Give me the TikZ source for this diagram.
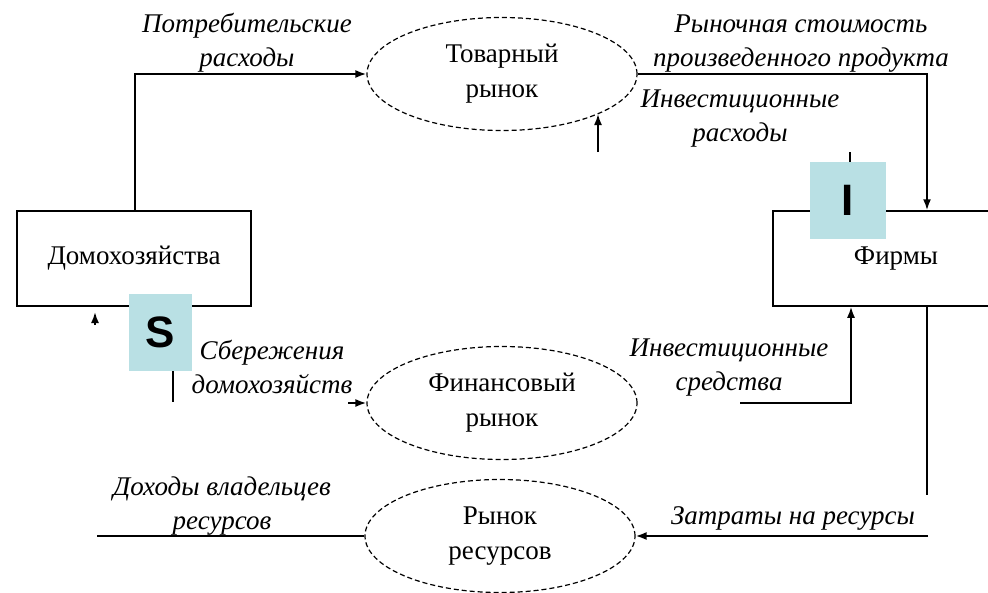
\documentclass[tikz,border=0pt]{standalone}
\usepackage{fontspec}
\setmainfont{Liberation Serif}
\newfontfamily\sansb{Liberation Sans}
\usetikzlibrary{arrows.meta,shapes.geometric}
\definecolor{boxblue}{RGB}{185,224,228}
\begin{document}
\begin{tikzpicture}[x=1pt,y=-1pt,
  lbl/.style={font=\fontsize{27}{34}\selectfont\itshape, align=center, inner sep=0pt},
  mkt/.style={ellipse, draw, dash pattern=on 5pt off 3pt, line width=1.2pt, minimum width=270pt, minimum height=113pt, align=center, font=\fontsize{27}{35}\selectfont, inner sep=0pt},
  agent/.style={rectangle, draw, line width=1.5pt, minimum height=95pt, font=\fontsize{27}{30}\selectfont, inner sep=0pt},
  tag/.style={fill=boxblue, inner sep=0pt, font=\sansb\bfseries\fontsize{44}{44}\selectfont},
  conn/.style={line width=1.8pt},
  arr/.style={conn, -{Latex[length=11pt,width=8pt]}},
]
\useasboundingbox (0,0) rectangle (988,592);
% agents
\node[agent, minimum width=234pt] (hh) at (134,258.5) {Домохозяйства};
\node[agent, minimum width=246pt] (firms) at (896,258.5) {Фирмы};
% markets
\node[mkt] (goods) at (502,74) {Товарный\\рынок};
\node[mkt] (fin) at (502,403) {Финансовый\\рынок};
\node[mkt] (res) at (500,536) {Рынок\\ресурсов};
% tags
\node[tag, minimum width=63pt, minimum height=77pt] (S) at (160.5,332.5) {S};
\node[tag, minimum width=76pt, minimum height=77pt] (I) at (848,200.5) {I};
% coordinates
\coordinate (c1) at (135,74);
\coordinate (c2) at (927,74);
\coordinate (c3) at (598,152);
\coordinate (c3t) at (598,114);
\coordinate (c4) at (850,152);
\coordinate (c5) at (173,402);
\coordinate (c6) at (348,403);
\coordinate (c7) at (95,325);
\coordinate (c7t) at (95,312);
\coordinate (c8) at (740,403);
\coordinate (c9) at (851,403);
\coordinate (c10) at (927,495);
\coordinate (c11) at (928,536);
\coordinate (c12) at (97,536);
% connectors
\draw[arr] (hh.north -| c1) -- (c1) -- (goods.west);
\draw[arr] (goods.east) -- (c2) -- (c2 |- firms.north);
\draw[arr] (c3) -- (c3t);
\draw[conn] (c4) -- (c4 |- I.north);
\draw[conn] (S.south -| c5) -- (c5);
\draw[arr] (c6) -- (fin.west);
\draw[arr] (c7) -- (c7t);
\draw[arr] (c8) -- (c9) -- (c9 |- firms.south);
\draw[conn] (firms.south -| c10) -- (c10);
\draw[arr] (c11) -- (res.east);
\draw[conn] (res.west) -- (c12);
% labels
\node[lbl] (l1) at (247,43) {Потребительские\\расходы};
\node[lbl] (l2) at (801,44) {Рыночная стоимость\\произведенного продукта};
\node[lbl] (l3) at (740,119) {Инвестиционные\\расходы};
\node[lbl] (l4) at (272,367) {Сбережения\\домохозяйств};
\node[lbl] (l5) at (729,368) {Инвестиционные\\средства};
\node[lbl] (l6) at (793,518) {Затраты на ресурсы};
\node[lbl] (l7) at (222,506) {Доходы владельцев\\ресурсов};
\end{tikzpicture}
\end{document}
